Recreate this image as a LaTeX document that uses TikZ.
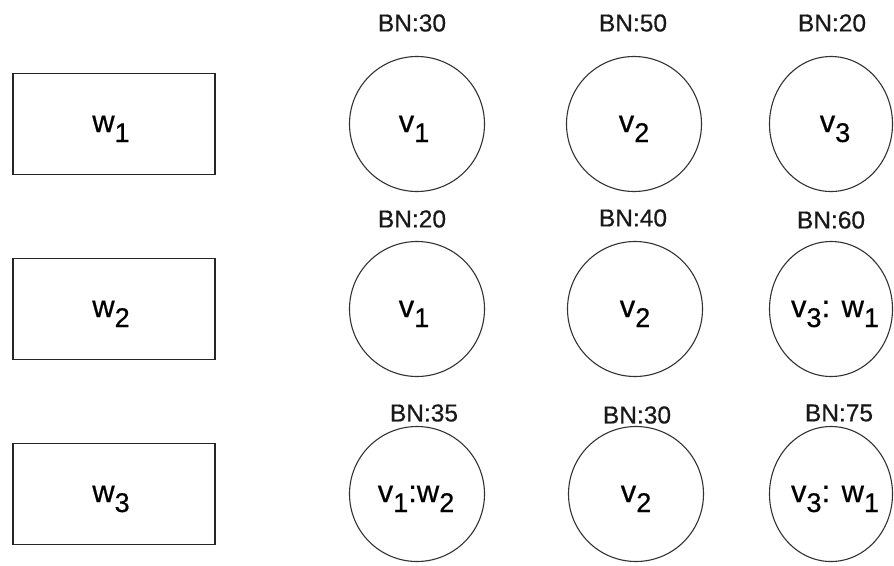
\documentclass[tikz,border=0pt]{standalone}
\usepackage{fontspec}
\setmainfont{Liberation Sans}
\newfontfamily\heavysans{Liberation Sans}[FakeBold=0.5]
\usetikzlibrary{shapes.geometric}

% label text: large letter with a lowered digit
\newcommand\labmain[1]{{\heavysans\fontsize{31}{31}\selectfont #1}}
\newcommand\labsub[1]{\raisebox{-10pt}{\heavysans\fontsize{27}{27}\selectfont #1}}

\begin{document}
\begin{tikzpicture}[x=1pt,y=-1pt,
  wbox/.style={draw=black!85,line width=1.6pt,minimum width=202pt,minimum height=101pt,inner sep=0pt},
  vnode/.style={draw=black!80,line width=1.1pt,circle,minimum size=135pt,inner sep=0pt},
  vnodenarrow/.style={draw=black!80,line width=1.1pt,ellipse,minimum width=123pt,minimum height=135pt,inner sep=0pt},
  bn/.style={font=\heavysans\fontsize{24.5}{24.5}\selectfont,inner sep=0pt,text=black!90},
  lab/.style={anchor=base,inner sep=0pt,text=black}]
\useasboundingbox (0,0) rectangle (894,565);
\clip (0,0) rectangle (894,565);
\fill[white] (0,0) rectangle (894,565);

% task boxes
\node[wbox] (w1) at (114,124) {};
\node[wbox] (w2) at (114,309) {};
\node[wbox] (w3) at (114,494) {};
\node[lab] (w1l) at (111,132) {\labmain{w}\labsub{1}};
\node[lab] (w2l) at (111,317) {\labmain{w}\labsub{2}};
\node[lab] (w3l) at (111,502) {\labmain{w}\labsub{3}};

% first row
\node[vnode] (a1) at (417,124) {};
\node[vnode] (a2) at (634,124) {};
\node[vnodenarrow] (a3) at (831,124) {};
\node[lab] (a1l) at (414,132) {\labmain{v}\labsub{1}};
\node[lab] (a2l) at (634,132) {\labmain{v}\labsub{2}};
\node[lab] (a3l) at (835,132) {\labmain{v}\labsub{3}};
\node[bn] (a1b) at (412,23) {BN:30};
\node[bn] (a2b) at (633,23) {BN:50};
\node[bn] (a3b) at (832,23) {BN:20};

% second row
\node[vnode] (b1) at (417,309) {};
\node[vnode] (b2) at (635,309) {};
\node[vnodenarrow] (b3) at (831,309) {};
\node[lab] (b1l) at (414,317) {\labmain{v}\labsub{1}};
\node[lab] (b2l) at (635,317) {\labmain{v}\labsub{2}};
\node[lab] (b3l) at (835,317) {\labmain{v}\labsub{3}\labmain{: w}\labsub{1}};
\node[bn] (b1b) at (412,219) {BN:20};
\node[bn] (b2b) at (633,218) {BN:40};
\node[bn] (b3b) at (831,220) {BN:60};

% third row
\node[vnode] (c1) at (417,494) {};
\node[vnode] (c2) at (636,494) {};
\node[vnodenarrow] (c3) at (831,494) {};
\node[lab] (c1l) at (416,502) {\labmain{v}\labsub{1}\labmain{:w}\labsub{2}};
\node[lab] (c2l) at (636,502) {\labmain{v}\labsub{2}};
\node[lab] (c3l) at (835,502) {\labmain{v}\labsub{3}\labmain{: w}\labsub{1}};
\node[bn] (c1b) at (424,413) {BN:35};
\node[bn] (c2b) at (637,415) {BN:30};
\node[bn] (c3b) at (839,413) {BN:75};
\end{tikzpicture}
\end{document}
